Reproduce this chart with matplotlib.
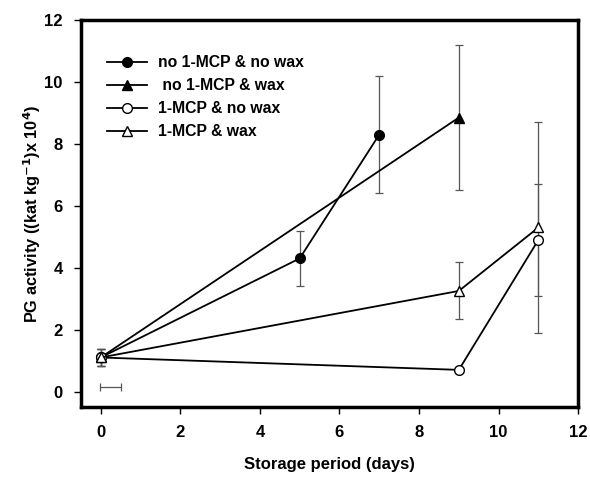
import matplotlib
matplotlib.use("Agg")
import matplotlib.pyplot as plt

plt.rcParams["font.family"] = ["Liberation Sans", "DejaVu Sans"]
plt.rcParams["font.weight"] = "bold"

# series: days, mean PG activity, error (symmetric)
days_a = [0, 5, 7]
vals_a = [1.1, 4.3, 8.3]
err_a = [0.27, 0.9, 1.9]

days_b = [0, 9]
vals_b = [1.1, 8.85]
err_b = [0.27, 2.35]

days_c = [0, 9, 11]
vals_c = [1.1, 0.7, 4.9]
err_c = [0.27, 0.1, 1.8]

days_d = [0, 9, 11]
vals_d = [1.1, 3.25, 5.3]
err_d = [0.27, 0.92, 3.4]

labels = ["no 1-MCP & no wax", " no 1-MCP & wax", "1-MCP & no wax", "1-MCP & wax"]

# LSD bar near the origin
lsd_x = 0.25
lsd_half = 0.26
lsd_y = 0.15

fig = plt.figure(figsize=(5.9, 4.78), dpi=100)
ax = fig.add_axes([0.137, 0.1485, 0.843, 0.8095])

err_kw = dict(ecolor="#555555", elinewidth=0.9, capsize=3, capthick=0.9)
line_kw = dict(color="black", linewidth=1.3, markersize=7, markeredgecolor="black")

series = [
    (days_a, vals_a, err_a, "o", "black"),
    (days_b, vals_b, err_b, "^", "black"),
    (days_c, vals_c, err_c, "o", "white"),
    (days_d, vals_d, err_d, "^", "white"),
]
handles = []
for (d, v, e, m, fc), lab in zip(series, labels):
    ax.errorbar(d, v, yerr=e, fmt="none", zorder=1, **err_kw)
    h, = ax.plot(d, v, marker=m, markerfacecolor=fc, label=lab, zorder=3, **line_kw)
    handles.append(h)

ax.errorbar([lsd_x], [lsd_y], xerr=[lsd_half], fmt="none", **err_kw)

ax.set_xlim(-0.5, 12)
ax.set_ylim(-0.5, 12)
ax.set_xticks(range(0, 13, 2))
ax.set_yticks(range(0, 13, 2))
for s in ax.spines.values():
    s.set_linewidth(2.5)
ax.tick_params(direction="out", length=5, width=1, labelsize=12, pad=8)

ax.set_xlabel("Storage period (days)", fontsize=12, fontweight="bold", labelpad=12)
ax.set_ylabel(r"PG activity ((kat kg$^{\mathbf{-1}}$)x 10$^{\mathbf{4}}$)",
              fontsize=11.8, fontweight="bold", labelpad=1)

ax.legend(handles=handles, loc="upper left", bbox_to_anchor=(0.025, 0.945),
          frameon=False, handlelength=2.5, handletextpad=0.7, labelspacing=0.5,
          prop={"weight": "bold", "size": 11.3})

fig.savefig("out.png", dpi=100)
